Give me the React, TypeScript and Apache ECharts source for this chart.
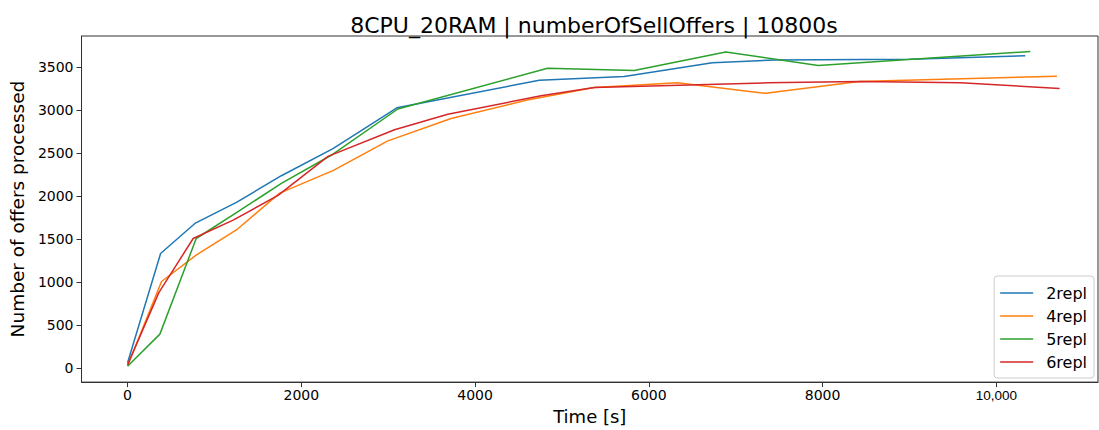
import React, { useEffect, useRef } from "react";
import * as echarts from "echarts";

const titleText = "8CPU_20RAM | numberOfSellOffers | 10800s";
const xName = "Time [s]";
const yName = "Number of offers processed";

const seriesNames = ["2repl", "4repl", "5repl", "6repl"];
const colors = ["#1f77b4", "#ff7f0e", "#2ca02c", "#d62728"];

const times2 = [0, 380, 775, 1253, 1770, 2364, 3100, 4739, 5716, 6732, 7450, 9000, 10333];
const vals2 = [65, 1335, 1685, 1930, 2240, 2555, 3030, 3350, 3395, 3555, 3585, 3595, 3635];

const times4 = [0, 391, 793, 1253, 1751, 2364, 2996, 3724, 4600, 5372, 6330, 7345, 8420, 10697];
const vals4 = [30, 1010, 1320, 1609, 2038, 2300, 2645, 2905, 3120, 3265, 3320, 3198, 3335, 3398];

const times5 = [0, 372, 790, 1253, 1770, 2364, 3111, 4835, 5831, 6885, 7950, 10391];
const vals5 = [25, 398, 1510, 1810, 2150, 2490, 3016, 3490, 3465, 3680, 3522, 3685];

const times6 = [0, 360, 755, 1215, 1732, 2307, 3073, 3686, 4759, 5372, 7364, 8437, 9586, 10728];
const vals6 = [40, 880, 1510, 1724, 2011, 2465, 2775, 2955, 3170, 3265, 3320, 3335, 3320, 3255];

const xTicks = [0, 2000, 4000, 6000, 8000, 10000];
const yTicks = [0, 500, 1000, 1500, 2000, 2500, 3000, 3500];

const allTimes = [times2, times4, times5, times6];
const allVals = [vals2, vals4, vals5, vals6];

const FONT = "DejaVu Sans";

export default function App() {
  const ref = useRef<HTMLDivElement>(null);
  useEffect(() => {
    if (!ref.current) return;
    const chart = echarts.init(ref.current, undefined, { renderer: "svg" });
    const series = seriesNames.map((name, i) => ({
      name,
      type: "line",
      showSymbol: false,
      symbol: "none",
      data: allTimes[i].map((t, j) => [t, allVals[i][j]]),
      lineStyle: { color: colors[i], width: 1.5 },
      itemStyle: { color: colors[i] },
    }));
    chart.setOption({
      animation: false,
      title: {
        text: titleText,
        left: 589,
        textAlign: "center",
        top: 9,
        textStyle: { fontFamily: FONT, fontSize: 22, fontWeight: "normal", color: "#000" },
      },
      grid: {
        left: 80,
        right: 1,
        top: 36,
        bottom: 43,
        show: true,
        borderColor: "#333",
        borderWidth: 1,
        containLabel: false,
      },
      legend: {
        data: seriesNames,
        right: 5,
        top: 276,
        orient: "vertical",
        icon: "rect",
        itemWidth: 33,
        itemHeight: 1.5,
        itemGap: 7,
        padding: [9, 7, 8, 6],
        backgroundColor: "rgba(255,255,255,0.8)",
        borderColor: "#cccccc",
        borderWidth: 1,
        borderRadius: 3,
        textStyle: { fontFamily: FONT, fontSize: 16, color: "#000", padding: [0, 0, 0, 8] },
      },
      xAxis: {
        type: "value",
        min: -530,
        max: 11170,
        name: xName,
        nameLocation: "middle",
        nameGap: 24,
        nameTextStyle: { fontFamily: FONT, fontSize: 18, color: "#000" },
        splitLine: { show: false },
        axisLine: { show: true, onZero: false, lineStyle: { color: "#333" } },
        axisTick: { show: true, length: 5, customValues: xTicks, lineStyle: { color: "#333" } },
        axisLabel: {
          customValues: xTicks,
          margin: 6,
          fontFamily: FONT,
          fontSize: 14,
          color: "#000",
          formatter: (v: number) => (v === 10000 ? "{s|10,000}" : String(v)),
          rich: { s: { fontFamily: "Liberation Sans", fontSize: 13.5, color: "#000" } },
        },
      },
      yAxis: {
        type: "value",
        min: -160,
        max: 3865,
        name: yName,
        nameLocation: "middle",
        nameGap: 45,
        nameTextStyle: { fontFamily: FONT, fontSize: 18.5, color: "#000" },
        splitLine: { show: false },
        axisLine: { show: true, onZero: false, lineStyle: { color: "#333" } },
        axisTick: { show: true, length: 5, customValues: yTicks, lineStyle: { color: "#333" } },
        axisLabel: {
          customValues: yTicks,
          margin: 8,
          fontFamily: FONT,
          fontSize: 14,
          color: "#000",
          formatter: (v: number) => String(v),
        },
      },
      series,
    });
    return () => chart.dispose();
  }, []);
  return (
    <div
      ref={ref}
      style={{ position: "fixed", left: 0, top: 0, width: 1099, height: 430, background: "#fff" }}
    />
  );
}
